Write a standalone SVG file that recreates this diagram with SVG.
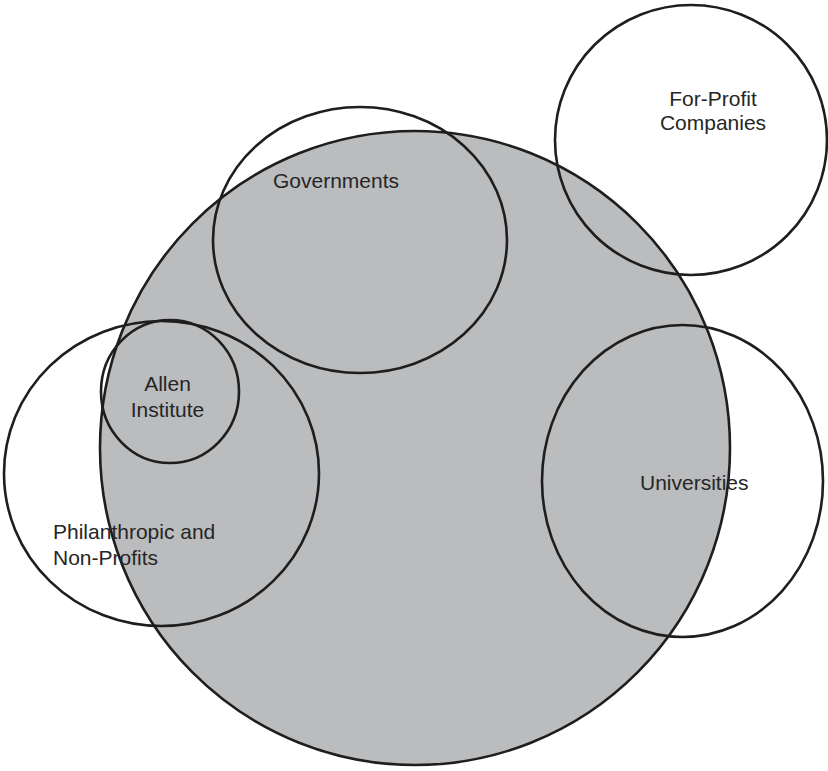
<svg xmlns="http://www.w3.org/2000/svg" width="828" height="771" viewBox="0 0 828 771">
<style>
.c{fill:none;stroke:#1e1e1e;stroke-width:2.6}
.t{font-family:"Liberation Sans",Arial,sans-serif;font-size:21px;fill:#262626;text-anchor:middle}
.tl{font-family:"Liberation Sans",Arial,sans-serif;font-size:21px;fill:#262626}
</style>
<rect width="828" height="771" fill="#ffffff"/>
<g id="ecosystem">
<ellipse cx="415" cy="448" rx="315" ry="317" fill="#bbbcbe" stroke="#1e1e1e" stroke-width="2.6"/>
</g>
<g id="governments">
<ellipse class="c" cx="360" cy="240" rx="147" ry="133"/>
<text class="tl" x="273" y="188">Governments</text>
</g>
<g id="for-profit">
<ellipse class="c" cx="691" cy="140" rx="136" ry="135"/>
<text class="t" x="713" y="106">For-Profit</text>
<text class="t" x="713" y="130">Companies</text>
</g>
<g id="universities">
<ellipse class="c" cx="682.5" cy="481" rx="140.5" ry="156"/>
<text class="tl" x="640" y="490">Universities</text>
</g>
<g id="philanthropic">
<ellipse class="c" cx="161.5" cy="473.5" rx="157.5" ry="152.5"/>
<text class="tl" x="53" y="539">Philanthropic and</text>
<text class="tl" x="53" y="565">Non-Profits</text>
</g>
<g id="allen">
<ellipse class="c" cx="170" cy="391.5" rx="69" ry="71.5"/>
<text class="t" x="167.5" y="391">Allen</text>
<text class="t" x="167.5" y="417">Institute</text>
</g>
<g id="connectors"/>
</svg>
